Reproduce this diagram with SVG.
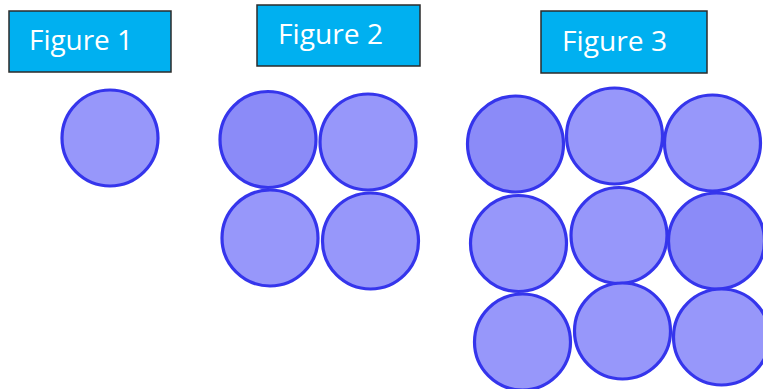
<svg xmlns="http://www.w3.org/2000/svg" width="763" height="389" viewBox="0 0 763 389">
<style>
.box{fill:#00b0f0;stroke:#2b2b2b;stroke-width:1.5}
.lbl{font-family:"Open Sans","DejaVu Sans",sans-serif;font-size:28px;fill:#ffffff}
.c{fill:#9797fa;stroke:#3535ec;stroke-width:3.2}
.d{fill:#8b8bf8}
</style>
<rect width="763" height="389" fill="#ffffff"/>
<g id="label1"><rect class="box" x="9" y="11" width="162" height="61"/><text class="lbl" x="29" y="50" textLength="104" lengthAdjust="spacingAndGlyphs">Figure 1</text></g>
<g id="label2"><rect class="box" x="257" y="5" width="163" height="61"/><text class="lbl" x="278" y="44" textLength="105" lengthAdjust="spacingAndGlyphs">Figure 2</text></g>
<g id="label3"><rect class="box" x="541" y="11" width="166" height="62"/><text class="lbl" x="562" y="51" textLength="105" lengthAdjust="spacingAndGlyphs">Figure 3</text></g>
<g id="figure1"><circle class="c" cx="110" cy="138" r="48"/></g>
<g id="figure2">
<circle class="c d" cx="268" cy="139.5" r="48"/>
<circle class="c" cx="368" cy="142" r="48"/>
<circle class="c" cx="270" cy="238" r="48"/>
<circle class="c" cx="370.5" cy="241" r="48"/>
</g>
<g id="figure3">
<circle class="c d" cx="515.5" cy="144" r="48"/>
<circle class="c" cx="614.5" cy="136" r="48"/>
<circle class="c" cx="712.5" cy="143" r="48"/>
<circle class="c" cx="518.5" cy="243.5" r="48"/>
<circle class="c" cx="619" cy="235.5" r="48"/>
<circle class="c d" cx="716.5" cy="241" r="48"/>
<circle class="c" cx="522.5" cy="342" r="48"/>
<circle class="c" cx="622.5" cy="331" r="48"/>
<circle class="c" cx="721.5" cy="337" r="48"/>
</g>
</svg>
